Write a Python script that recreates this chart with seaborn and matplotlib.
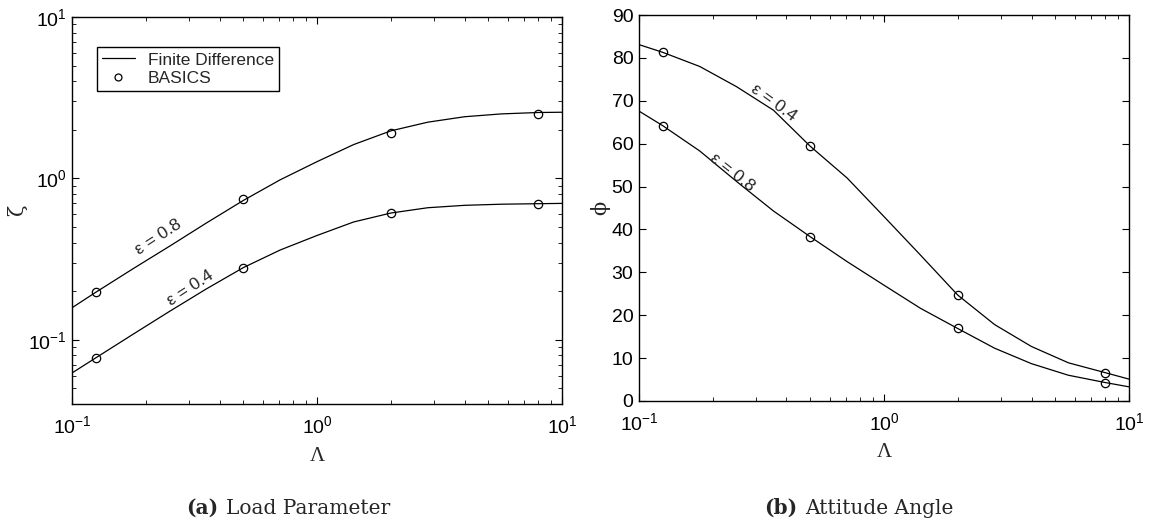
import numpy as np
import pandas as pd
import matplotlib
matplotlib.use("Agg")
import matplotlib.pyplot as plt
from matplotlib.lines import Line2D
from matplotlib.ticker import LogLocator, NullFormatter, MultipleLocator
import seaborn as sns

# ---------------- data ----------------
lam_curve = [0.1, 0.125, 0.177, 0.25, 0.354, 0.5, 0.707, 1.0, 1.41, 2.0, 2.83, 4.0, 5.66, 8.0, 10.0]
zeta_fd_08 = [0.158, 0.197, 0.275, 0.38, 0.53, 0.73, 0.98, 1.27, 1.62, 1.97, 2.23, 2.41, 2.51, 2.56, 2.57]
zeta_fd_04 = [0.0623, 0.0773, 0.108, 0.150, 0.207, 0.28, 0.36, 0.443, 0.537, 0.61, 0.658, 0.681, 0.692, 0.697, 0.70]
phi_fd_04 = [83.1, 81.3, 78.0, 73.3, 67.8, 59.4, 52.0, 43.0, 34.0, 24.7, 17.8, 12.7, 8.9, 6.6, 5.1]
phi_fd_08 = [67.6, 64.2, 58.3, 51.2, 44.3, 38.3, 32.5, 27.0, 21.6, 16.9, 12.3, 8.7, 6.0, 4.3, 3.3]

lam_pts = [0.125, 0.5, 2.0, 8.0]
zeta_bas_08 = [0.199, 0.741, 1.90, 2.50]
zeta_bas_04 = [0.0773, 0.280, 0.607, 0.690]
phi_bas_04 = [81.4, 59.4, 24.7, 6.5]
phi_bas_08 = [64.1, 38.3, 17.0, 4.2]

legend_labels = ["Finite Difference", "BASICS"]
captions = [("(a)", "Load Parameter"), ("(b)", "Attitude Angle")]

# ---------------- style ----------------
sns.set_style("ticks")
plt.rcParams["font.family"] = ["Liberation Sans", "DejaVu Sans"]
plt.rcParams["mathtext.fontset"] = "custom"
plt.rcParams["mathtext.rm"] = "Liberation Sans"
plt.rcParams["mathtext.it"] = "Liberation Sans:italic"
plt.rcParams["mathtext.bf"] = "Liberation Sans:bold"
plt.rcParams["axes.unicode_minus"] = False
plt.rcParams["xtick.direction"] = "in"
plt.rcParams["ytick.direction"] = "in"
plt.rcParams["xtick.top"] = True
plt.rcParams["ytick.right"] = True
plt.rcParams["axes.edgecolor"] = "black"
plt.rcParams["axes.linewidth"] = 1.0
plt.rcParams["xtick.color"] = "black"
plt.rcParams["ytick.color"] = "black"

fig = plt.figure(figsize=(11.49, 5.23), dpi=100)
ax1 = fig.add_axes([0.0627, 0.2275, 0.4265, 0.740])
ax2 = fig.add_axes([0.5561, 0.2333, 0.4265, 0.738])

def curves(ax, yc1, yc2, yp1, yp2):
    df_c = pd.DataFrame({"lam": lam_curve * 2, "val": yc1 + yc2,
                         "eps": ["a"] * len(lam_curve) + ["b"] * len(lam_curve)})
    sns.lineplot(data=df_c, x="lam", y="val", units="eps", estimator=None,
                 color="black", lw=0.9, ax=ax, legend=False)
    for yp in (yp1, yp2):
        sns.lineplot(x=lam_pts, y=yp, ax=ax, color="black", linestyle="",
                     marker="o", markersize=6, markerfacecolor="none",
                     markeredgecolor="black", markeredgewidth=0.9,
                     legend=False, estimator=None)

# ---- left panel ----
curves(ax1, zeta_fd_08, zeta_fd_04, zeta_bas_08, zeta_bas_04)
ax1.set_xscale("log")
ax1.set_yscale("log")
ax1.set_xlim(0.1, 10)
ax1.set_ylim(0.04, 10)
ax1.yaxis.set_major_locator(LogLocator(base=10, numticks=10))
ax1.yaxis.set_minor_locator(LogLocator(base=10, subs=np.arange(2, 10), numticks=20))
ax1.yaxis.set_minor_formatter(NullFormatter())
ax1.set_xlabel("Λ", family="Liberation Serif", fontsize=15)
ax1.set_ylabel("ζ", family="DejaVu Serif", fontsize=15, rotation=90)
ax1.xaxis.set_label_coords(0.5, -0.112)
ax1.yaxis.set_label_coords(-0.092, 0.50)
ax1.text(0.224, 0.43, "ε = 0.8", rotation=33, ha="center", va="center", fontsize=12.5)
ax1.text(0.303, 0.209, "ε = 0.4", rotation=33, ha="center", va="center", fontsize=12.5)

handles = [Line2D([], [], color="black", lw=0.9),
           Line2D([], [], color="black", linestyle="", marker="o", markersize=5,
                  markerfacecolor="none", markeredgewidth=0.9)]
leg = ax1.legend(handles, legend_labels, loc="upper left",
                 bbox_to_anchor=(0.05, 0.922), fontsize=12.5, frameon=True,
                 fancybox=False, edgecolor="black", framealpha=1,
                 handlelength=1.9, borderpad=0.3, labelspacing=0.2,
                 handletextpad=0.75, borderaxespad=0.0)
leg.get_frame().set_linewidth(1.0)

# ---- right panel ----
curves(ax2, phi_fd_04, phi_fd_08, phi_bas_04, phi_bas_08)
ax2.set_xscale("log")
ax2.set_xlim(0.1, 10)
ax2.set_ylim(0, 90)
ax2.yaxis.set_major_locator(MultipleLocator(10))
ax2.set_xlabel("Λ", family="Liberation Serif", fontsize=15)
ax2.set_ylabel("ϕ", family="DejaVu Serif", fontsize=15, rotation=90)
ax2.xaxis.set_label_coords(0.5, -0.11)
ax2.yaxis.set_label_coords(-0.058, 0.50)
ax2.text(0.356, 69.5, "ε = 0.4", rotation=-36, ha="center", va="center", fontsize=12.5)
ax2.text(0.241, 53.4, "ε = 0.8", rotation=-38, ha="center", va="center", fontsize=12.5)

for ax in (ax1, ax2):
    ax.xaxis.set_major_locator(LogLocator(base=10, numticks=10))
    ax.xaxis.set_minor_locator(LogLocator(base=10, subs=np.arange(2, 10), numticks=20))
    ax.xaxis.set_minor_formatter(NullFormatter())
    ax.tick_params(which="major", length=5, width=0.8, labelsize=14)
    ax.tick_params(which="minor", length=3, width=0.6)
    ax.tick_params(axis="x", which="major", pad=8)
    ax.tick_params(axis="y", which="major", pad=4)
    for s in ax.spines.values():
        s.set_visible(True)
        s.set_color("black")

# ---- captions ----
cy = 1 - 508 / 523
fig.text(218 / 1149, cy, captions[0][0], ha="right", va="center",
         family="DejaVu Serif", fontweight="bold", fontsize=14.5)
fig.text(226 / 1149, cy, captions[0][1], ha="left", va="center",
         family="DejaVu Serif", fontsize=14.5)
fig.text(797 / 1149, cy, captions[1][0], ha="right", va="center",
         family="DejaVu Serif", fontweight="bold", fontsize=14.5)
fig.text(805 / 1149, cy, captions[1][1], ha="left", va="center",
         family="DejaVu Serif", fontsize=14.5)

fig.savefig("out.png", dpi=100, facecolor="white")
